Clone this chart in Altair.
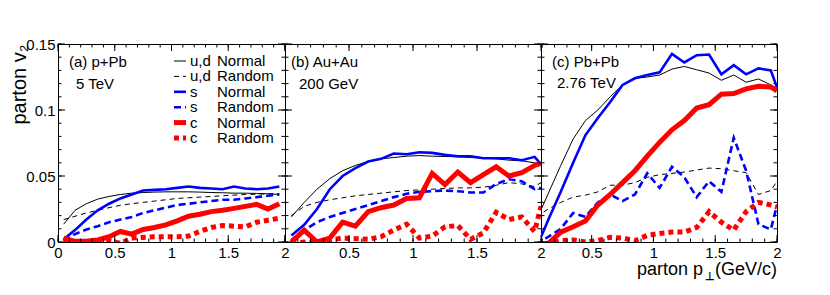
import altair as alt
import numpy as np
import pandas as pd

# ---------------- data ----------------
X_A = [0.05, 0.15, 0.25, 0.35, 0.45, 0.55, 0.65, 0.75, 0.85, 0.95,
       1.05, 1.15, 1.25, 1.35, 1.45, 1.55, 1.65, 1.75, 1.85, 1.95]
X_BC = X_A + [2.0]

# (a) p+Pb 5 TeV
A_UD_NORMAL = [0.0135, 0.024, 0.029, 0.0325, 0.0345, 0.036, 0.037, 0.0375, 0.0378, 0.038,
               0.038, 0.038, 0.0378, 0.0375, 0.0373, 0.037, 0.037, 0.0368, 0.0365, 0.036]
A_UD_RANDOM = [0.017, 0.0195, 0.022, 0.024, 0.026, 0.0278, 0.029, 0.030, 0.031, 0.032,
               0.033, 0.0335, 0.034, 0.0345, 0.035, 0.0355, 0.036, 0.0362, 0.0365, 0.0368]
A_S_NORMAL = [0.002, 0.009, 0.017, 0.024, 0.029, 0.033, 0.036, 0.039, 0.0395, 0.040,
              0.041, 0.042, 0.041, 0.0405, 0.040, 0.042, 0.0405, 0.040, 0.0405, 0.042]
A_S_RANDOM = [0.001, 0.006, 0.0095, 0.012, 0.015, 0.017, 0.019, 0.022, 0.024, 0.026,
              0.028, 0.029, 0.030, 0.031, 0.032, 0.032, 0.033, 0.034, 0.035, 0.036]
A_C_NORMAL = [0.003, 0.0005, 0.0005, 0.0015, 0.004, 0.008, 0.006, 0.0095, 0.011, 0.013,
              0.016, 0.0195, 0.021, 0.023, 0.024, 0.0255, 0.027, 0.0285, 0.025, 0.029]
A_C_RANDOM = [0.003, -0.002, -0.003, -0.001, 0.001, -0.001, 0.003, 0.0035, 0.004, 0.004,
              0.004, 0.0045, 0.008, 0.011, 0.0125, 0.012, 0.0115, 0.015, 0.0165, 0.018]

# (b) Au+Au 200 GeV
B_UD_NORMAL = [0.019, 0.030, 0.040, 0.048, 0.054, 0.058, 0.061, 0.063, 0.064, 0.065,
               0.0655, 0.065, 0.0648, 0.0645, 0.064, 0.0635, 0.063, 0.062, 0.0615, 0.060, 0.0595]
B_UD_RANDOM = [0.020, 0.027, 0.030, 0.032, 0.0335, 0.035, 0.036, 0.037, 0.038, 0.039,
               0.0395, 0.040, 0.0405, 0.041, 0.041, 0.0415, 0.043, 0.045, 0.044, 0.042, 0.045]
B_S_NORMAL = [0.005, 0.013, 0.025, 0.040, 0.050, 0.056, 0.061, 0.063, 0.067, 0.0665,
              0.068, 0.0675, 0.066, 0.065, 0.065, 0.0635, 0.0635, 0.0635, 0.062, 0.0645, 0.059]
B_S_RANDOM = [0.0015, 0.009, 0.015, 0.019, 0.022, 0.025, 0.028, 0.031, 0.034, 0.0365,
              0.038, 0.0385, 0.039, 0.0385, 0.0375, 0.0375, 0.044, 0.0475, 0.046, 0.040, 0.041]
B_C_NORMAL = [0.0, 0.009, 0.0, 0.003, 0.015, 0.012, 0.023, 0.026, 0.028, 0.033,
              0.0335, 0.052, 0.0435, 0.053, 0.045, 0.051, 0.057, 0.050, 0.0525, 0.058, 0.0595]
B_C_RANDOM = [-0.001, 0.0, -0.001, 0.0015, 0.003, 0.0025, 0.002, 0.004, 0.009, 0.0135,
              0.003, 0.0045, 0.0115, 0.0125, 0.002, 0.007, 0.0225, 0.017, 0.019, 0.008, 0.027]

# (c) Pb+Pb 2.76 TeV
C_UD_NORMAL = [0.016, 0.037, 0.058, 0.078, 0.092, 0.100, 0.110, 0.119, 0.124, 0.125,
               0.1265, 0.131, 0.133, 0.1305, 0.128, 0.1225, 0.1265, 0.121, 0.1235, 0.119, 0.1165]
C_UD_RANDOM = [0.019, 0.025, 0.030, 0.034, 0.0355, 0.038, 0.043, 0.043, 0.045, 0.049,
               0.051, 0.052, 0.053, 0.0545, 0.056, 0.0555, 0.054, 0.0525, 0.036, 0.039, 0.046]
C_S_NORMAL = [-0.005, 0.017, 0.038, 0.060, 0.081, 0.094, 0.106, 0.119, 0.124, 0.1265,
              0.1285, 0.1425, 0.136, 0.1415, 0.142, 0.127, 0.134, 0.127, 0.1315, 0.130, 0.117]
C_S_RANDOM = [-0.002, 0.004, 0.010, 0.022, 0.019, 0.030, 0.036, 0.031, 0.036, 0.052,
              0.041, 0.057, 0.049, 0.034, 0.046, 0.038, 0.079, 0.054, 0.0135, 0.0095, 0.028]
C_C_NORMAL = [None, -0.001, 0.0075, 0.0115, 0.016, 0.028, 0.036, 0.045, 0.054, 0.065,
              0.0755, 0.085, 0.092, 0.1015, 0.104, 0.112, 0.1125, 0.116, 0.118, 0.1175, 0.1145]
C_C_RANDOM = [-0.002, -0.001, 0.001, 0.0015, 0.0, 0.001, 0.0035, 0.003, 0.001, 0.005,
              0.0065, 0.0075, 0.0075, 0.011, 0.023, 0.015, 0.009, 0.023, 0.030, 0.028, 0.0265]

SERIES = ["ud_normal", "ud_random", "s_normal", "s_random", "c_normal", "c_random"]
LEGEND_NAMES = ["u,d", "u,d", "s", "s", "c", "c"]
LEGEND_KINDS = ["Normal", "Random", "Normal", "Random", "Normal", "Random"]
PANEL_TITLES = ["(a) p+Pb", "(b) Au+Au", "(c) Pb+Pb"]
PANEL_ENERGIES = ["5 TeV", "200 GeV", "2.76 TeV"]
Y_LABELS = [0, 0.05, 0.1, 0.15]
X_LABELS_A = [0, 0.5, 1, 1.5, 2]
X_LABELS_BC = [0.5, 1, 1.5, 2]
Y_TITLE = "parton v\u2082"
X_TITLE_PARTS = ["parton p", "\u22a5", "(GeV/c)"]

PANEL_DATA = [
    (X_A, dict(zip(SERIES, [A_UD_NORMAL, A_UD_RANDOM, A_S_NORMAL, A_S_RANDOM, A_C_NORMAL, A_C_RANDOM]))),
    (X_BC, dict(zip(SERIES, [B_UD_NORMAL, B_UD_RANDOM, B_S_NORMAL, B_S_RANDOM, B_C_NORMAL, B_C_RANDOM]))),
    (X_BC, dict(zip(SERIES, [C_UD_NORMAL, C_UD_RANDOM, C_S_NORMAL, C_S_RANDOM, C_C_NORMAL, C_C_RANDOM]))),
]

# ---------------- styles / layout ----------------
FONT = "Liberation Sans"
H = 198
WIDTHS = [227, 256, 236]
XDOMAINS = [[0, 2], [0, 2], [0.09, 2]]
STYLE = {
    "ud_normal": dict(color="black", strokeWidth=1),
    "ud_random": dict(color="black", strokeWidth=1, strokeDash=[5, 4]),
    "s_normal": dict(color="#0000ff", strokeWidth=2.6),
    "s_random": dict(color="#0000ff", strokeWidth=2.6, strokeDash=[7, 4]),
    "c_normal": dict(color="#ff0000", strokeWidth=5),
    "c_random": dict(color="#ff0000", strokeWidth=5, strokeDash=[5, 4]),
}
TEXT_POS = [(11, 18, 18, 40), (6, 18, 14, 40), (11, 18, 16, 39)]

Y_MAJOR = [0, 0.05, 0.1, 0.15]
Y_MINOR = list(np.round(np.arange(0, 0.1501, 0.01), 3))
X_MAJOR = [0, 0.5, 1, 1.5, 2]
X_MINOR = list(np.round(np.arange(0, 2.001, 0.1), 2))

LABEL_EXPR = "'' + datum.value"


def text_layer(txt, x, y, size=15, align="left", baseline="middle", weight="normal"):
    return alt.Chart(pd.DataFrame({"t": [txt]})).mark_text(
        align=align, baseline=baseline, fontSize=size, font=FONT, color="black",
        fontWeight=weight).encode(x=alt.value(x), y=alt.value(y), text="t:N")


def make_panel(i):
    xs, data = PANEL_DATA[i]
    W = WIDTHS[i]
    dom = XDOMAINS[i]
    xsc = alt.Scale(domain=dom, nice=False, zero=False)
    ysc = alt.Scale(domain=[0, 0.15], nice=False, zero=False)
    common = dict(labelExpr=LABEL_EXPR, labelFlush=False, labelOverlap=False, ticks=False,
                  tickSize=0, domain=False, grid=False, labelFontSize=15, labelFont=FONT,
                  labelColor="black")
    xaxis = alt.Axis(values=X_LABELS_A if i == 0 else X_LABELS_BC, labelPadding=3,
                     title=None, **common)
    if i == 0:
        yaxis = alt.Axis(values=Y_LABELS, labelPadding=3, title=Y_TITLE, titleX=-33, titleY=0,
                         titleAlign="right", titleBaseline="alphabetic", titleAngle=-90,
                         titleFontSize=20, titleFont=FONT, titleFontWeight="normal",
                         titleColor="black", **common)
    else:
        yaxis = None

    def X(f):
        return alt.X(f, type="quantitative", scale=xsc, axis=xaxis)

    def Y(f):
        return alt.Y(f, type="quantitative", scale=ysc, axis=yaxis)

    layers = []
    for key in SERIES:
        df = pd.DataFrame({"x": xs, "v": data[key]}).dropna()
        layers.append(alt.Chart(df).mark_line(clip=True, **STYLE[key]).encode(x=X("x"), y=Y("v")))

    # inward ticks on all four sides
    ymaj = pd.DataFrame({"v": Y_MAJOR})
    ymin = pd.DataFrame({"v": Y_MINOR})
    xmaj = pd.DataFrame({"x": [t for t in X_MAJOR if t >= dom[0]]})
    xmin = pd.DataFrame({"x": [t for t in X_MINOR if t >= dom[0]]})
    for df, L in ((ymaj, 7), (ymin, 3.5)):
        layers.append(alt.Chart(df).mark_rule(color="black", strokeWidth=1).encode(
            y=Y("v"), x=alt.value(0), x2=alt.value(L)))
        layers.append(alt.Chart(df).mark_rule(color="black", strokeWidth=1).encode(
            y=Y("v"), x=alt.value(W - L), x2=alt.value(W)))
    for df, L in ((xmaj, 7), (xmin, 3.5)):
        layers.append(alt.Chart(df).mark_rule(color="black", strokeWidth=1).encode(
            x=X("x"), y=alt.value(H), y2=alt.value(H - L)))
        layers.append(alt.Chart(df).mark_rule(color="black", strokeWidth=1).encode(
            x=X("x"), y=alt.value(0), y2=alt.value(L)))

    # panel labels
    tx1, ty1, tx2, ty2 = TEXT_POS[i]
    layers.append(text_layer(PANEL_TITLES[i], tx1, ty1))
    layers.append(text_layer(PANEL_ENERGIES[i], tx2, ty2))

    # legend (panel a only)
    if i == 0:
        for k, key in enumerate(SERIES):
            ypix = 17 + k * 15.4
            vrow = 0.15 * (1 - ypix / H)
            df = pd.DataFrame({"v": [vrow], "name": [LEGEND_NAMES[k]], "kind": [LEGEND_KINDS[k]]})
            layers.append(alt.Chart(df).mark_rule(**STYLE[key]).encode(
                y=Y("v"), x=alt.value(116), x2=alt.value(128)))
            layers.append(alt.Chart(df).mark_text(
                align="left", baseline="middle", fontSize=15, font=FONT, color="black").encode(
                y=Y("v"), x=alt.value(132), text="name:N"))
            layers.append(alt.Chart(df).mark_text(
                align="left", baseline="middle", fontSize=15, font=FONT, color="black").encode(
                y=Y("v"), x=alt.value(159), text="kind:N"))

    # x-axis title (panel c), with subscript perp sign
    if i == 2:
        base = H + 33
        layers.append(text_layer(X_TITLE_PARTS[2], W, base, size=18, align="right",
                                 baseline="alphabetic"))
        layers.append(text_layer(X_TITLE_PARTS[1], W - 67, base + 5, size=11, align="center",
                                 baseline="alphabetic", weight="bold"))
        layers.append(text_layer(X_TITLE_PARTS[0], W - 74, base, size=18, align="right",
                                 baseline="alphabetic"))

    return alt.layer(*layers).properties(width=W, height=H)


chart = alt.hconcat(make_panel(0), make_panel(1), make_panel(2), spacing=0, bounds="flush").properties(
    padding={"left": 0, "top": 28, "right": 5, "bottom": 5}
).configure_view(stroke="black", strokeWidth=1).configure_axis(grid=False)

chart.save("out.html", embed_options={"renderer": "svg", "actions": False})
